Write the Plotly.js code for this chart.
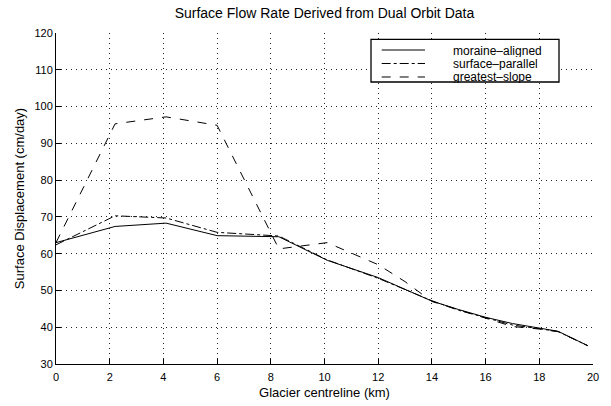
<!DOCTYPE html>
<html>
<head>
<meta charset="utf-8">
<script src="https://cdn.plot.ly/plotly-3.0.1.min.js"></script>
<style>html,body{margin:0;padding:0;background:#fff;}#chart{width:611px;height:406px;}</style>
</head>
<body>
<div id="chart"></div>
<script>
var distanceKm = [0, 2.2, 4.1, 6.0, 8.3, 10.1, 12.0, 13.0, 14.0, 15.0, 16.0, 17.0, 18.0, 18.7, 19.8];
var moraineAligned = [63.0, 67.4, 68.3, 64.9, 64.6, 58.2, 53.5, 50.2, 47.1, 44.8, 42.7, 41.0, 39.8, 38.9, 35.0];
var surfaceParallel = [62.4, 70.3, 69.7, 65.8, 64.8, 58.3, 53.3, 50.3, 47.2, 44.6, 42.6, 40.6, 39.6, 38.8, 35.0];
var greatestSlope = [63.0, 95.3, 97.2, 94.9, 61.3, 63.0, 57.0, 52.4, 47.0, 44.8, 42.5, 40.2, 39.5, 38.8, 35.0];
var seriesNames = ["moraine\u2013aligned", "surface\u2013parallel", "greatest\u2013slope"];
var seriesDash = ["solid", "dashdot", "dash"];
var xTicks = [0, 2, 4, 6, 8, 10, 12, 14, 16, 18, 20];
var yTicks = [30, 40, 50, 60, 70, 80, 90, 100, 110, 120];

var FONT = "Liberation Sans, Arial, Helvetica, sans-serif";
function tr(y, i) {
  return {x: distanceKm, y: y, name: seriesNames[i], type: "scatter", mode: "lines",
          showlegend: false, line: {color: "#000", width: 1, dash: seriesDash[i]}};
}
var data = [tr(moraineAligned, 0), tr(surfaceParallel, 1), tr(greatestSlope, 2)];

var axisCommon = {
  showline: true, linecolor: "#000", linewidth: 1, mirror: false,
  ticks: "inside", ticklen: 5, tickcolor: "#000",
  showgrid: true, gridcolor: "#222", griddash: "1px,4px", gridwidth: 1,
  zeroline: false, tickfont: {family: FONT, size: 11, color: "#000"}
};

// custom legend (box + samples + labels) placed in paper coordinates
var shapes = [{type: "rect", xref: "paper", yref: "paper", x0: 0.5866, x1: 0.9367, y0: 0.852, y1: 0.981,
               line: {color: "#000", width: 1.3}, fillcolor: "#fff", layer: "above"}];
var annotations = [];
var legY = [0.9486, 0.9079, 0.8671];
for (var i = 0; i < 3; i++) {
  shapes.push({type: "line", xref: "paper", yref: "paper", x0: 0.6065, x1: 0.6872, y0: legY[i], y1: legY[i],
               line: {color: "#000", width: 1, dash: seriesDash[i]}, layer: "above"});
  annotations.push({xref: "paper", yref: "paper", x: 0.7369, y: legY[i], xanchor: "left", yanchor: "middle",
                    borderpad: 0, height: 13, align: "left", valign: "middle",
                    text: seriesNames[i], showarrow: false,
                    font: {family: FONT, size: 12, color: "#000"}});
}

var layout = {
  width: 611, height: 406,
  margin: {l: 56, r: 18, t: 33, b: 42},
  paper_bgcolor: "#fff", plot_bgcolor: "#fff",
  font: {family: FONT, color: "#000"},
  title: {text: "Surface Flow Rate Derived from Dual Orbit Data", font: {family: FONT, size: 14, color: "#000"},
          x: 0.531, xanchor: "center", y: 0.968, yanchor: "middle"},
  xaxis: Object.assign({}, axisCommon, {range: [0, 20], tickvals: xTicks, ticktext: xTicks.map(String),
          ticklabelstandoff: 3,
          title: {text: "Glacier centreline (km)", font: {family: FONT, size: 13, color: "#000"}, standoff: 5}}),
  yaxis: Object.assign({}, axisCommon, {range: [30, 120], tickvals: yTicks, ticktext: yTicks.map(String),
          title: {text: "Surface Displacement (cm/day)", font: {family: FONT, size: 13, color: "#000"}, standoff: 6}}),
  showlegend: false,
  shapes: shapes,
  annotations: annotations
};
Plotly.newPlot("chart", data, layout, {displayModeBar: false, staticPlot: true});
</script>
</body>
</html>
